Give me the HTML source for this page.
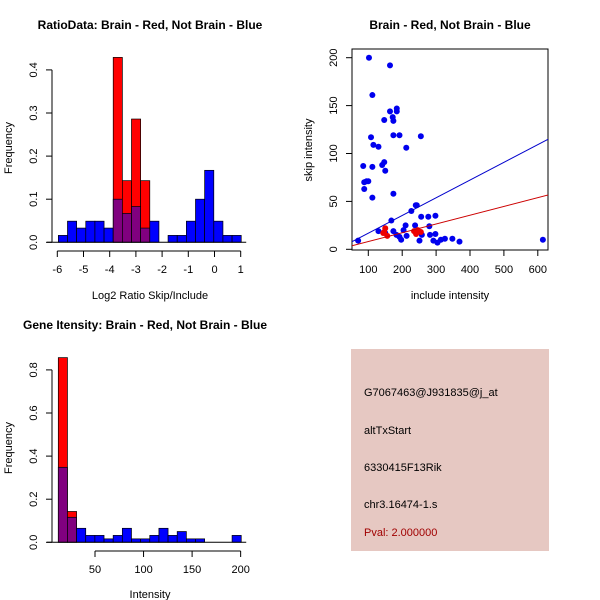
<!DOCTYPE html>
<html><head><meta charset="utf-8"><style>
body{margin:0;background:#fff}
svg{display:block;font-family:"Liberation Sans",sans-serif}
</style></head><body>
<svg id="c" width="600" height="600" xmlns="http://www.w3.org/2000/svg">
<rect width="600" height="600" fill="#fff"/>
<text x="150" y="29" text-anchor="middle" font-size="12" font-weight="bold">RatioData: Brain - Red, Not Brain - Blue</text>
<text x="450" y="29" text-anchor="middle" font-size="12" font-weight="bold">Brain - Red, Not Brain - Blue</text>
<text x="145" y="329" text-anchor="middle" font-size="12" font-weight="bold">Gene Itensity: Brain - Red, Not Brain - Blue</text>
<text x="150" y="299" text-anchor="middle" font-size="11">Log2 Ratio Skip/Include</text>
<text transform="translate(12,148) rotate(-90)" text-anchor="middle" font-size="11">Frequency</text>
<text x="450" y="299" text-anchor="middle" font-size="11">include intensity</text>
<text transform="translate(312,150) rotate(-90)" text-anchor="middle" font-size="11">skip intensity</text>
<text x="150" y="598" text-anchor="middle" font-size="11">Intensity</text>
<text transform="translate(12,448) rotate(-90)" text-anchor="middle" font-size="11">Frequency</text>
<g>
<rect x="351" y="349" width="198" height="202" fill="#e6c8c2"/>
<text x="364" y="396" font-size="11">G7067463@J931835@j_at</text>
<text x="364" y="434" font-size="11">altTxStart</text>
<text x="364" y="471" font-size="11">6330415F13Rik</text>
<text x="364" y="508" font-size="11">chr3.16474-1.s</text>
<text x="364" y="536" font-size="11" fill="#a00000">Pval: 2.000000</text>
</g>
</svg>
<script>
// Ratio histogram data
const ratioStart = -5.96, ratioBinWidth = 0.349;
const ratioBlue = [0.016,0.049,0.033,0.049,0.049,0.033,0.1,0.067,0.083,0.033,0.049,0,0.016,0.016,0.049,0.1,0.167,0.049,0.016,0.016];
const ratioRed  = [0,0,0,0,0,0,0.429,0.143,0.286,0.143,0,0,0,0,0,0,0,0,0,0];
const ratioXTicks = [-6,-5,-4,-3,-2,-1,0,1];
const ratioYTicks = [0,0.1,0.2,0.3,0.4];
// Intensity histogram data
const intStart = 12.2, intBinWidth = 9.42;
const intBlue = [0.348,0.116,0.065,0.032,0.032,0.016,0.032,0.065,0.016,0.016,0.032,0.065,0.032,0.05,0.016,0.016,0,0,0,0.032];
const intRed  = [0.857,0.143,0,0,0,0,0,0,0,0,0,0,0,0,0,0,0,0,0,0];
const intXTicks = [50,100,150,200];
const intYTicks = [0,0.2,0.4,0.6,0.8];
// Scatter data
const blueX = [102,164,112,164,184,184,172,174,147,108,174,192,255,115,130,212,85,141,147,112,150,88,95,100,88,112,174,243,240,227,168,256,277,298,210,238,280,130,174,204,150,183,192,197,213,258,282,298,251,292,304,314,326,348,369,70,615];
const blueY = [200,192,161,144,147,144,138,134,135,117,119,119,118,109,107,106,87,88,91,86,82,70,71,71,63,54,58,46,46,40,30,34,34,35,25,25,24,19,19,20,17,15,13,10,14,15,15,16,9,9,7,10,11,11,8,9,10];
const redX = [150,147,156,235,246,255,241,144];
const redY = [22,18,14,19,20,18,16,17];
const blueFit = [-1.7,0.185];
const redFit = [-1.1,0.0917];
const scXTicks = [100,200,300,400,500,600];
const scYTicks = [0,50,100,150,200];

const NS="http://www.w3.org/2000/svg", svg=document.getElementById('c');
function mk(t,a,p){const e=document.createElementNS(NS,t);for(const k in a)e.setAttribute(k,a[k]);(p||svg).appendChild(e);return e;}

function hist(name, x0, bw, blue, red, xs, yScale, xTicks, yTicks, baseY, axisY, leftX, yTickFmt, xAxisFrom, xAxisTo){
  const g=mk('g',{});
  
  
  for(let i=0;i<blue.length;i++){
    const a=xs(x0+i*bw), b=xs(x0+(i+1)*bw);
    if(red[i]>0){
      const r=mk('rect',{x:a,y:yScale(red[i]),width:b-a,height:baseY-yScale(red[i]),fill:'#ff0000',stroke:'#000','stroke-width':0.7},g);
      
      
    }
    if(blue[i]>0){
      const r=mk('rect',{x:a,y:yScale(blue[i]),width:b-a,height:baseY-yScale(blue[i]),fill:red[i]>0?'#80007f':'#0000ff',stroke:'#000','stroke-width':0.7},g);
      
      
    }
  }
  mk('line',{x1:leftX-5,x2:xs(x0+bw*blue.length)+5,y1:baseY,y2:baseY,stroke:'#000'},g);
  mk('line',{x1:leftX,x2:leftX,y1:yScale(yTicks[0]),y2:yScale(yTicks[yTicks.length-1]),stroke:'#000'},g);
  yTicks.forEach(v=>{const y=yScale(v);mk('line',{x1:leftX-6,x2:leftX,y1:y,y2:y,stroke:'#000'},g);
    const t=mk('text',{transform:`translate(${leftX-15},${y}) rotate(-90)`,'text-anchor':'middle','font-size':11},g);t.textContent=yTickFmt(v);});
  mk('line',{x1:xs(xAxisFrom),x2:xs(xAxisTo),y1:axisY,y2:axisY,stroke:'#000'},g);
  xTicks.forEach(v=>{const x=xs(v);mk('line',{x1:x,x2:x,y1:axisY,y2:axisY+6,stroke:'#000'},g);
    const t=mk('text',{x:x,y:axisY+22,'text-anchor':'middle','font-size':11},g);t.textContent=v;});
}
// Ratio hist
const rX=v=>57.3+(v+6)*26.2, rY=v=>242.3-v*431;
hist('ratio-histogram',ratioStart,ratioBinWidth,ratioBlue,ratioRed,rX,rY,ratioXTicks,ratioYTicks,242.3,251,52,v=>v.toFixed(1),-6,1);
// Intensity hist
const iX=v=>95+(v-50)*0.971, iY=v=>542.3-v*215.5;
hist('intensity-histogram',intStart,intBinWidth,intBlue,intRed,iX,iY,intXTicks,intYTicks,542.3,551,52,v=>v.toFixed(1),50,200);

// Scatter
const sX=v=>368.3+(v-100)*0.339, sY=v=>249.3-v*0.958;
const sg=mk('g',{});


mk('rect',{x:352,y:49,width:196,height:201,fill:'none',stroke:'#000'},sg);
scXTicks.forEach(v=>{const x=sX(v);mk('line',{x1:x,x2:x,y1:250,y2:256,stroke:'#000'},sg);
  const t=mk('text',{x:x,y:273,'text-anchor':'middle','font-size':11},sg);t.textContent=v;});
scYTicks.forEach(v=>{const y=sY(v);mk('line',{x1:346,x2:352,y1:y,y2:y,stroke:'#000'},sg);
  const t=mk('text',{transform:`translate(337,${y}) rotate(-90)`,'text-anchor':'middle','font-size':11},sg);t.textContent=v;});
const cp=mk('clipPath',{id:'cp'},sg);mk('rect',{x:352,y:49,width:196,height:201},cp);
blueX.forEach((v,i)=>{const c=mk('circle',{cx:sX(v),cy:sY(blueY[i]),r:3,fill:'#0000ee'},sg);
  
  });
redX.forEach((v,i)=>{const c=mk('circle',{cx:sX(v),cy:sY(redY[i]),r:3,fill:'#ee0000'},sg);
  
  });
[[blueFit,'#0000cc','blue-fit-line'],[redFit,'#cc0000','red-fit-line']].forEach(([f,col,n])=>{
  const l=mk('line',{x1:sX(40),y1:sY(f[0]+f[1]*40),x2:sX(700),y2:sY(f[0]+f[1]*700),stroke:col,'stroke-width':1,'clip-path':'url(#cp)'},sg);
  
  });
</script>
</body></html>
